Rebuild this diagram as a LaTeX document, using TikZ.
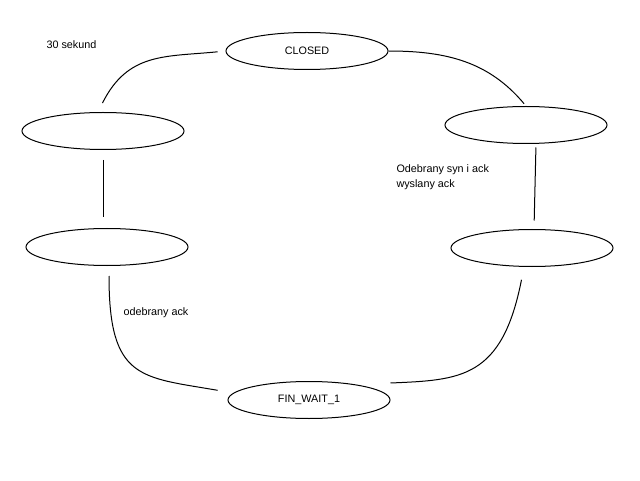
\documentclass[tikz,border=0pt]{standalone}
\usepackage{fontspec}
\setmainfont{Liberation Sans}
\usetikzlibrary{shapes.geometric}

\begin{document}
\begin{tikzpicture}[x=1pt, y=1pt, state/.style={shape=ellipse,draw,minimum width=162pt,minimum height=37pt,inner sep=0}, label/.style={inner sep=0, font=\fontsize{10.8}{15}\selectfont}, line width=1pt]
				\useasboundingbox (0,0) rectangle (640,480);
				\node[state, label] (closed) at (307,429) {CLOSED};
				\node[state] (lt) at (103,349) {};
				\node[state] (rt) at (526,355) {};
				\node[state] (lm) at (107,233) {};
				\node[state] (rm) at (532,232) {};
				\node[state, label] (fin) at (309,80) {FIN\_WAIT\_1};
				\node[label, anchor=west] (sek) at (46,435) {30 sekund};
				\node[label, anchor=north west, align=left] (syn) at (396,316) {Odebrany syn i ack\\wyslany ack};
				\node[label, anchor=west] (ack) at (123,167) {odebrany ack};
				\draw[shorten <=10pt, shorten >=8pt] ([xshift=-5pt]lt.north) .. controls +(30,60) and +(-60,-6) .. (closed.west);
				\draw[shorten >=3pt] (closed.east) to[out=0, in=130] (rt.north);
				\draw[shorten <=10pt, shorten >=11pt] (lt.south) -- (lt.south |- lm.north);
				\draw[shorten <=3.5pt, shorten >=8.5pt] ([xshift=10pt]rt.south) -- ([xshift=2pt]rm.north);
				\draw[shorten <=10pt, shorten >=10pt] ([xshift=2pt]lm.south) .. controls +(0,-114) and +(-87,15) .. ([yshift=8pt]fin.west);
				\draw[shorten <=13pt] ([xshift=-8pt]rm.south) .. controls +(-22,-112) and +(70,3) .. ([yshift=17pt]fin.east);
			\end{tikzpicture}
\end{document}
